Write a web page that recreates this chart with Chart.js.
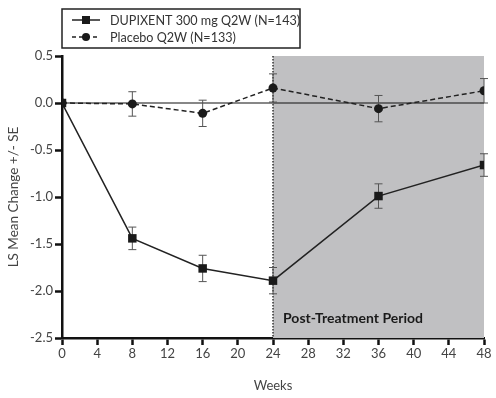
<!DOCTYPE html>
<html>
<head>
<meta charset="utf-8">
<script src="https://cdn.jsdelivr.net/npm/chart.js@4/dist/chart.umd.min.js"></script>
<style>
  html, body { margin: 0; padding: 0; background: #fff; }
  #wrap { width: 496px; height: 398px; position: relative; }
</style>
</head>
<body>
<div id="wrap"><canvas id="chart" width="496" height="398"></canvas></div>
<script>
// uker (x) og verdier lest fra figuren
const weeks = [0, 8, 16, 24, 36, 48];
const dupixentMean = [0, -1.44, -1.76, -1.89, -0.99, -0.66];
const dupixentSE = [0, 0.12, 0.14, 0.14, 0.13, 0.12];
const placeboMean = [0, -0.01, -0.11, 0.16, -0.06, 0.13];
const placeboSE = [0, 0.13, 0.14, 0.15, 0.14, 0.13];
const seriesNames = ['DUPIXENT 300 mg Q2W (N=143)', 'Placebo Q2W (N=133)'];
const xTicks = [0, 4, 8, 12, 16, 20, 24, 28, 32, 36, 40, 44, 48];
const yTicks = [0.5, 0.0, -0.5, -1.0, -1.5, -2.0, -2.5];
const postStart = 24, postEnd = 48;
const postLabel = 'Post-Treatment Period';

const FONT = 'Lato, "Open Sans", sans-serif';

// gråt felt + stiplet linje + nullinje + feilfelt
const backgroundPlugin = {
  id: 'bakgrunn',
  beforeDatasetsDraw(chart) {
    const { ctx, chartArea: a, scales: { x, y } } = chart;
    const x0 = x.getPixelForValue(postStart), x1 = x.getPixelForValue(postEnd);
    ctx.save();
    ctx.fillStyle = '#c0c0c2';
    ctx.fillRect(x0, a.top, x1 - x0, a.bottom - a.top);
    // nullinje
    ctx.strokeStyle = '#111';
    ctx.lineWidth = 1.2;
    ctx.beginPath();
    ctx.moveTo(a.left, y.getPixelForValue(0));
    ctx.lineTo(a.right, y.getPixelForValue(0));
    ctx.stroke();
    // stiplet vertikal linje
    ctx.setLineDash([1.5, 1.5]);
    ctx.lineWidth = 1.5;
    ctx.strokeStyle = '#333';
    ctx.beginPath();
    ctx.moveTo(x0, a.top);
    ctx.lineTo(x0, a.bottom);
    ctx.stroke();
    ctx.setLineDash([]);
    // tekst
    ctx.fillStyle = '#1a1a1a';
    ctx.font = 'bold 14px ' + FONT;
    ctx.textBaseline = 'middle';
    ctx.fillText(postLabel, x0 + 10, y.getPixelForValue(-2.29));
    // feilfelt
    const errs = [dupixentSE, placeboSE];
    chart.data.datasets.forEach((ds, i) => {
      ctx.strokeStyle = '#555';
      ctx.lineWidth = 1;
      ds.data.forEach((p, j) => {
        const se = errs[i][j];
        if (!se) return;
        const px = x.getPixelForValue(p.x);
        const top = y.getPixelForValue(p.y + se), bot = y.getPixelForValue(p.y - se);
        ctx.beginPath();
        ctx.moveTo(px, top); ctx.lineTo(px, bot);
        ctx.moveTo(px - 4, top); ctx.lineTo(px + 4, top);
        ctx.moveTo(px - 4, bot); ctx.lineTo(px + 4, bot);
        ctx.stroke();
      });
    });
    ctx.restore();
  }
};

// egen forklaring i boks
const legendPlugin = {
  id: 'forklaring',
  afterDraw(chart) {
    const { ctx } = chart;
    ctx.save();
    ctx.strokeStyle = '#222';
    ctx.lineWidth = 1.5;
    ctx.strokeRect(62, 9, 238, 39);
    ctx.font = '12.6px ' + FONT;
    ctx.textBaseline = 'middle';
    const rows = [20, 37];
    chart.data.datasets.forEach((ds, i) => {
      const yy = rows[i];
      ctx.strokeStyle = '#222';
      ctx.lineWidth = 1.5;
      ctx.setLineDash(i === 1 ? [4, 3] : []);
      ctx.beginPath();
      ctx.moveTo(72, yy); ctx.lineTo(100, yy);
      ctx.stroke();
      ctx.setLineDash([]);
      ctx.fillStyle = '#1a1a1a';
      if (i === 0) {
        ctx.fillRect(82, yy - 4, 8, 8);
      } else {
        ctx.beginPath(); ctx.arc(86, yy, 4, 0, Math.PI * 2); ctx.fill();
      }
      ctx.fillStyle = '#333';
      ctx.fillText(seriesNames[i], 110, yy + 1);
    });
    ctx.restore();
  }
};

new Chart(document.getElementById('chart'), {
  type: 'line',
  data: {
    datasets: [
      {
        label: seriesNames[0],
        data: weeks.map((w, i) => ({ x: w, y: dupixentMean[i] })),
        borderColor: '#222',
        borderWidth: 1.5,
        pointStyle: 'rect',
        pointRadius: 6,
        pointBackgroundColor: '#1a1a1a',
        pointBorderColor: '#1a1a1a',
        pointBorderWidth: 0,
        tension: 0
      },
      {
        label: seriesNames[1],
        data: weeks.map((w, i) => ({ x: w, y: placeboMean[i] })),
        borderColor: '#222',
        borderWidth: 1.5,
        borderDash: [5, 3],
        pointStyle: 'circle',
        pointRadius: 4.5,
        pointBackgroundColor: '#1a1a1a',
        pointBorderColor: '#1a1a1a',
        pointBorderWidth: 0,
        tension: 0
      }
    ]
  },
  options: {
    responsive: false,
    animation: false,
    layout: { padding: { top: 56, right: 12, left: 6, bottom: 0 } },
    plugins: { legend: { display: false }, tooltip: { enabled: false } },
    scales: {
      x: {
        type: 'linear',
        min: 0, max: 48,
        afterBuildTicks(s) { s.ticks = xTicks.map(v => ({ value: v })); },
        afterFit(s) { s.height = 60; },
        border: { display: true, color: '#111', width: 2.5 },
        grid: { drawOnChartArea: false, tickLength: 7, tickWidth: 2.5, tickColor: '#111' },
        ticks: { color: '#444', font: { family: FONT, size: 13 }, padding: 1, maxRotation: 0 },
        title: { display: true, text: 'Weeks', color: '#444', font: { family: FONT, size: 13 }, padding: { top: 12 } }
      },
      y: {
        type: 'linear',
        min: -2.5, max: 0.5,
        afterBuildTicks(s) { s.ticks = yTicks.map(v => ({ value: v })); },
        afterFit(s) { s.width = 56; },
        border: { display: true, color: '#111', width: 2.5 },
        grid: { drawOnChartArea: false, tickLength: 7, tickWidth: 2.5, tickColor: '#111' },
        ticks: { color: '#444', font: { family: FONT, size: 13 }, padding: 2, callback: v => v.toFixed(1) },
        title: { display: true, text: 'LS Mean Change +/- SE', color: '#444', font: { family: FONT, size: 13.5 }, padding: { top: 0 } }
      }
    }
  },
  plugins: [backgroundPlugin, legendPlugin]
});
</script>
</body>
</html>
